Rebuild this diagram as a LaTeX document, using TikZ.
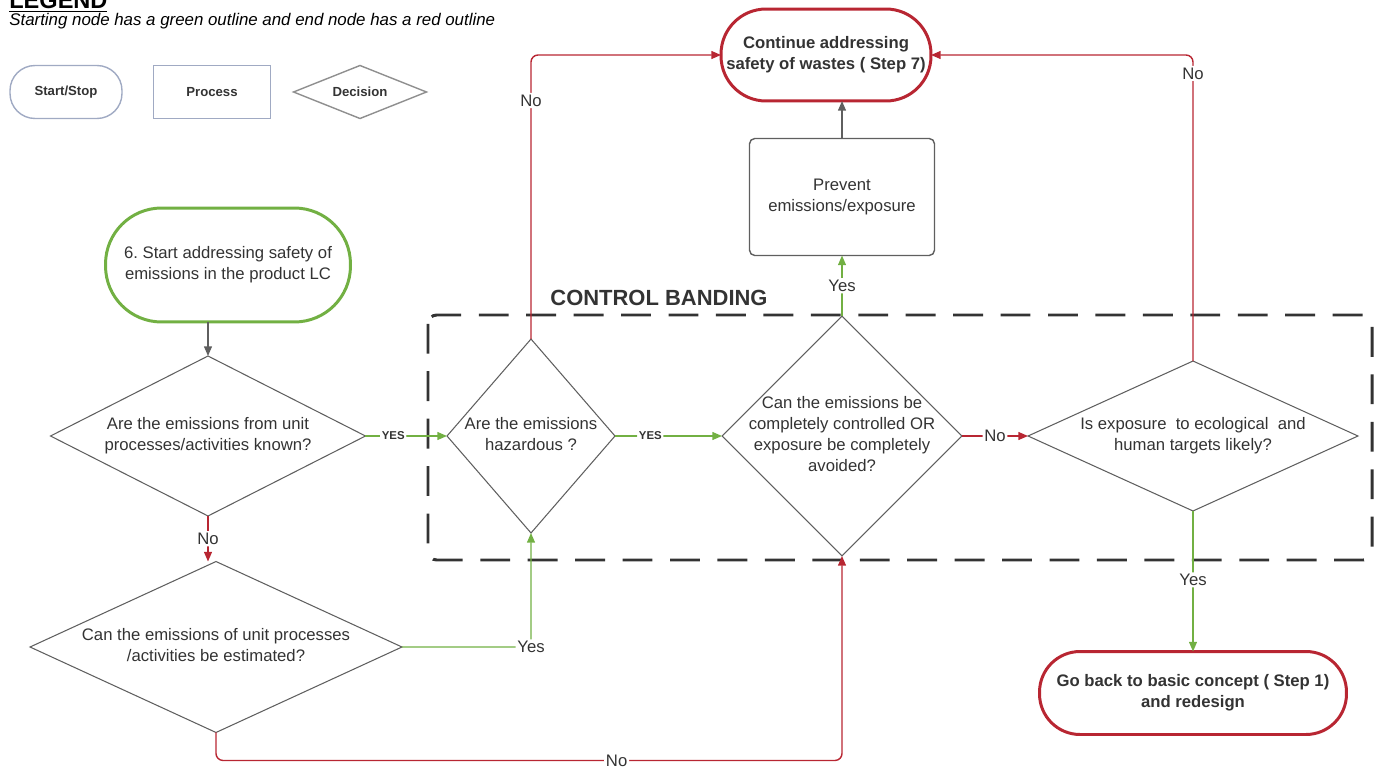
\documentclass[tikz,border=0pt]{standalone}
\usepackage{fontspec}
\setmainfont{Liberation Sans}
\usetikzlibrary{shapes.geometric,arrows.meta}
\frenchspacing
\definecolor{okgreen}{RGB}{114,176,67}
\definecolor{stopred}{RGB}{184,38,50}
\definecolor{inkgray}{RGB}{51,51,51}
\definecolor{edgegray}{RGB}{95,95,95}
\definecolor{legendblue}{RGB}{160,170,195}
% text of a diamond, taking no width so the shape keeps its size
\newcommand{\qtext}[1]{\makebox[0pt]{\begin{tabular}{@{}c@{}}#1\end{tabular}}}
\tikzset{
  txt/.style={font=\fontsize{9.5}{11.9}\selectfont, text=inkgray},
  decision/.style={diamond, draw=edgegray, line width=0.6pt, inner sep=0pt, outer sep=0pt, txt},
  terminal/.style={rectangle, line width=1.7pt, inner sep=0pt, outer sep=0pt, txt, align=center},
  process/.style={rectangle, draw=edgegray, line width=0.8pt, rounded corners=3pt, inner sep=0pt, outer sep=0pt, txt, align=center},
  legbox/.style={draw=legendblue, line width=0.8pt, inner sep=0pt, outer sep=0pt, font=\fontsize{7.5}{8.5}\selectfont\bfseries, text=inkgray},
  conn/.style={line width=0.8pt, rounded corners=4pt, -{Triangle[length=5.5pt,width=4.5pt]}},
  yes/.style={conn, okgreen},
  no/.style={conn, stopred},
  plain/.style={conn, edgegray},
  lbl/.style={fill=white, inner sep=1pt, txt},
  caps/.style={fill=white, inner sep=1pt, font=\fontsize{6.5}{7}\selectfont\bfseries, text=inkgray},
}
\begin{document}
\begin{tikzpicture}[x=0.02cm,y=-0.02cm]
\useasboundingbox (0,0) rectangle (1376,767);
% legend
\node[anchor=base west, font=\fontsize{13.4}{15}\selectfont\bfseries, text=black, inner sep=0pt] (legtitle) at (9,9) {\underline{LEGEND}};
\node[anchor=west, font=\fontsize{9.6}{11}\selectfont\itshape, text=black, inner sep=0pt] (legnote) at (9,21) {Starting node has a green outline and end node has a red outline};
\node[legbox, rounded corners=0.5cm, minimum width=2.24cm, minimum height=1.06cm] (legstart) at (66,92) {Start/Stop};
\node[legbox, minimum width=2.34cm, minimum height=1.06cm] (legproc) at (212,92) {Process};
\node[legbox, diamond, draw=edgegray!70, minimum width=2.66cm, minimum height=1.06cm] (legdec) at (360,92) {\makebox[0pt]{Decision}};

% control banding frame
\draw[inkgray, line width=1.7pt, dash pattern=on 17pt off 10pt, rounded corners=5pt] (428,315) rectangle (1372,560);
\node[font=\fontsize{12.5}{14}\selectfont\bfseries, text=inkgray] (bandname) at (659,298) {CONTROL BANDING};

% nodes
\node[terminal, draw=okgreen, rounded corners=1.12cm, minimum width=4.9cm, minimum height=2.28cm] (Start) at (228,265) {6. Start addressing safety of\\emissions in the product LC};
\node[decision, minimum width=6.3cm, minimum height=3.2cm] (D1) at (208,436) {\qtext{Are the emissions from unit\\processes/activities known?}};
\node[decision, minimum width=7.44cm, minimum height=3.42cm] (D2) at (216,647) {\qtext{Can the emissions of unit processes\\/activities be estimated?}};
\node[decision, minimum width=3.36cm, minimum height=3.88cm] (D3) at (531,436) {\qtext{Are the emissions\\hazardous ?}};
\node[decision, minimum width=4.8cm, minimum height=4.8cm] (D4) at (842,436) {\qtext{Can the emissions be\\completely controlled OR\\exposure be completely\\avoided?}};
\node[decision, minimum width=6.6cm, minimum height=3.0cm] (D5) at (1193,436) {\qtext{Is exposure\ \ to ecological\ \ and\\human targets likely?}};
\node[process, minimum width=3.7cm, minimum height=2.34cm] (Prev) at (842,197) {Prevent\\emissions/exposure};
\node[terminal, draw=stopred, rounded corners=0.9cm, minimum width=4.2cm, minimum height=1.84cm, font=\fontsize{9.5}{11.9}\selectfont\bfseries] (Cont) at (826,55) {Continue addressing\\safety of wastes ( Step 7)};
\node[terminal, draw=stopred, rounded corners=0.81cm, minimum width=6.14cm, minimum height=1.66cm, font=\fontsize{9.5}{11.9}\selectfont\bfseries] (Back) at (1193,693) {Go back to basic concept ( Step 1)\\and redesign};

% connectors
\draw[plain] (Start.south -| D1.north) -- (D1.north);
\draw[yes] (D1.east) -- node[pos=0.34,caps]{YES} (D3.west);
\draw[no] (D1.south) -- node[lbl]{No} (D1.south |- D2.north);
\draw[yes] (D2.east) -| node[pos=0.5,lbl]{Yes} (D3.south);
\draw[no] (D2.south) -- ++(0,28) -| node[pos=0.32,lbl]{No} (D4.south);
\draw[yes] (D3.east) -- node[pos=0.33,caps]{YES} (D4.west);
\draw[no] (D3.north) |- node[pos=0.42,lbl]{No} (Cont.west);
\draw[yes] (D4.north) -- node[lbl]{Yes} (Prev.south);
\draw[plain] (Prev.north) -- (Prev.north |- Cont.south);
\draw[no] (D4.east) -- node[lbl]{No} (D5.west);
\draw[no] (D5.north) |- node[pos=0.47,lbl]{No} (Cont.east);
\draw[yes] (D5.south) -- node[pos=0.49,lbl]{Yes} (Back.north);
\end{tikzpicture}
\end{document}
